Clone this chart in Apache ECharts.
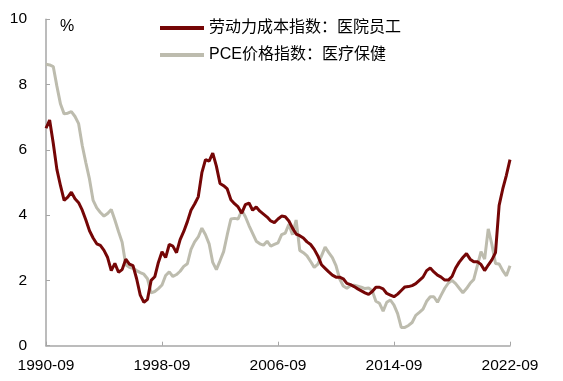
<!DOCTYPE html>
<html>
<head>
<meta charset="utf-8">
<script src="https://cdn.jsdelivr.net/npm/echarts@6/dist/echarts.min.js"></script>
<style>
html,body{margin:0;padding:0;background:#fff;}
#chart{width:563px;height:381px;}
</style>
</head>
<body>
<div id="chart"></div>
<script>
// Quarterly data, 1990-09 .. 2022-09
var startYear = 1990;
var endYear = 2022;
var tickLabels = ['1990-09', '1998-09', '2006-09', '2014-09', '2022-09'];
var seriesNames = ['劳动力成本指数：医院员工', 'PCE价格指数：医疗保健'];

var laborCost = [
  6.66, 6.91, 6.20, 5.40, 4.90, 4.45, 4.55, 4.70, 4.50, 4.38,
  4.15, 3.85, 3.52, 3.30, 3.12, 3.07, 2.92, 2.70, 2.30, 2.52,
  2.25, 2.33, 2.65, 2.50, 2.45, 2.05, 1.55, 1.33, 1.42, 2.00,
  2.11, 2.55, 2.88, 2.70, 3.10, 3.05, 2.85, 3.25, 3.50, 3.80,
  4.15, 4.34, 4.56, 5.30, 5.70, 5.65, 5.90, 5.50, 4.97, 4.90,
  4.80, 4.47, 4.35, 4.25, 4.06, 4.32, 4.37, 4.15, 4.25, 4.12,
  4.03, 3.94, 3.82, 3.77, 3.88, 3.97, 3.95, 3.82, 3.60, 3.42,
  3.37, 3.30, 3.18, 3.10, 2.95, 2.75, 2.48, 2.37, 2.26, 2.16,
  2.10, 2.10, 2.05, 1.91, 1.87, 1.81, 1.74, 1.68, 1.62, 1.57,
  1.66, 1.79, 1.79, 1.74, 1.60, 1.55, 1.50, 1.58, 1.69, 1.80,
  1.81, 1.84, 1.90, 2.00, 2.10, 2.30, 2.38, 2.26, 2.16, 2.10,
  2.01, 2.01, 2.12, 2.38, 2.56, 2.70, 2.82, 2.65, 2.57, 2.57,
  2.49, 2.30, 2.47, 2.63, 2.85, 4.30, 4.80, 5.22, 5.70
];

var pceHealth = [
  8.62, 8.60, 8.55, 7.95, 7.40, 7.10, 7.12, 7.17, 7.02, 6.80,
  6.13, 5.60, 5.10, 4.45, 4.22, 4.08, 3.97, 4.05, 4.17, 3.85,
  3.50, 3.17, 2.48, 2.40, 2.37, 2.30, 2.24, 2.19, 2.05, 1.62,
  1.66, 1.75, 1.86, 2.15, 2.26, 2.12, 2.18, 2.28, 2.43, 2.51,
  2.95, 3.18, 3.33, 3.60, 3.40, 3.12, 2.55, 2.33, 2.60, 2.88,
  3.40, 3.88, 3.90, 3.88, 4.15, 3.95, 3.68, 3.44, 3.20, 3.12,
  3.08, 3.20, 3.05, 3.10, 3.15, 3.40, 3.45, 3.72, 3.40, 3.85,
  2.92, 2.85, 2.75, 2.58, 2.40, 2.50, 2.75, 3.02, 2.85, 2.70,
  2.45, 2.05, 1.83, 1.76, 1.84, 1.85, 1.82, 1.79, 1.75, 1.77,
  1.68, 1.36, 1.30, 1.06, 1.33, 1.40, 1.24, 0.98, 0.56, 0.56,
  0.62, 0.71, 0.93, 1.02, 1.12, 1.36, 1.50, 1.50, 1.33, 1.55,
  1.76, 1.92, 2.00, 1.90, 1.76, 1.62, 1.75, 1.91, 2.03, 2.45,
  2.88, 2.65, 3.58, 3.10, 2.52, 2.50, 2.30, 2.14, 2.45
];

var categories = [];
for (var y = startYear; y <= endYear; y++) {
  var months = (y === startYear) ? ['09', '12'] : ['03', '06', '09', '12'];
  for (var m = 0; m < months.length; m++) {
    if (y === endYear && months[m] === '12') continue;
    categories.push(y + '-' + months[m]);
  }
}

var font = 'Liberation Sans, Arial, Noto Sans CJK SC, sans-serif';
var chart = echarts.init(document.getElementById('chart'));
chart.setOption({
  animation: false,
  backgroundColor: '#ffffff',
  grid: { left: 46, right: 53, top: 19.2, bottom: 35.3, containLabel: false },
  legend: {
    orient: 'vertical',
    left: 155,
    top: 15,
    itemWidth: 44,
    itemHeight: 4,
    itemGap: 11,
    icon: 'rect',
    textStyle: { fontSize: 16, color: '#000', fontFamily: font, padding: [0, 0, 0, 0] },
    data: seriesNames
  },
  graphic: [{
    type: 'text', left: 60, top: 19,
    style: { text: '%', fontSize: 16, fill: '#000', fontFamily: font }
  }],
  xAxis: {
    type: 'category',
    data: categories,
    boundaryGap: false,
    axisLine: { lineStyle: { color: '#a6a6a6', width: 1.5 } },
    axisTick: { show: true, inside: true, length: 4, interval: 31, lineStyle: { color: '#a6a6a6' } },
    axisLabel: {
      interval: 31, margin: 12, fontSize: 15.5, color: '#000', fontFamily: font,
      formatter: function (v) { return tickLabels.indexOf(v) >= 0 ? v : ''; }
    },
    splitLine: { show: false }
  },
  yAxis: {
    type: 'value',
    min: 0, max: 10, interval: 2,
    axisLine: { show: true, lineStyle: { color: '#a6a6a6', width: 1.5 } },
    axisTick: { show: true, inside: true, length: 4, lineStyle: { color: '#a6a6a6' } },
    axisLabel: { margin: 19, fontSize: 15.5, color: '#000', fontFamily: font },
    splitLine: { show: false }
  },
  series: [{
    name: seriesNames[0],
    type: 'line',
    data: laborCost,
    showSymbol: false,
    symbol: 'none',
    lineStyle: { color: '#750606', width: 3 },
    itemStyle: { color: '#750606' },
    z: 3
  }, {
    name: seriesNames[1],
    type: 'line',
    data: pceHealth,
    showSymbol: false,
    symbol: 'none',
    lineStyle: { color: '#bdbcae', width: 3 },
    itemStyle: { color: '#bdbcae' },
    z: 2
  }]
});
</script>
</body>
</html>
